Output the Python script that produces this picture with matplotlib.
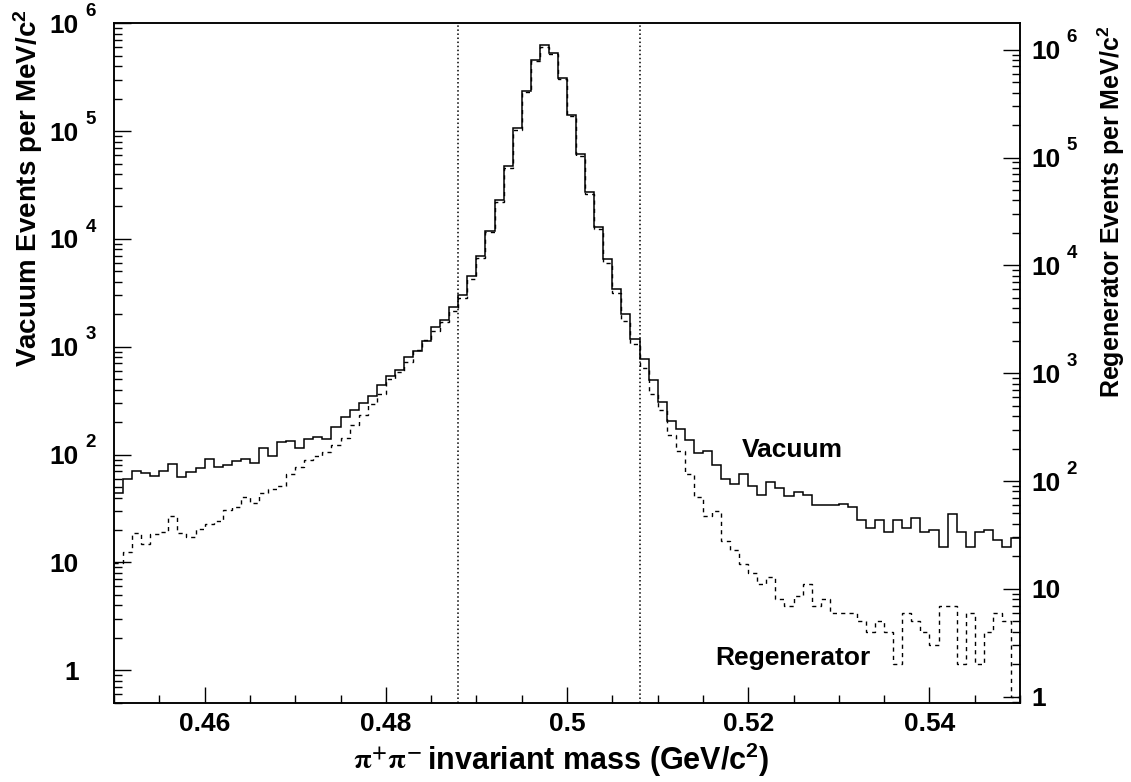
import numpy as np
import matplotlib
matplotlib.use('Agg')
import matplotlib.pyplot as plt
from matplotlib.ticker import LogLocator, MultipleLocator, FixedLocator, FixedFormatter, NullFormatter

plt.rcParams['font.family'] = ['Liberation Sans', 'DejaVu Sans']
plt.rcParams['font.weight'] = 'bold'
plt.rcParams['mathtext.fontset'] = 'custom'
plt.rcParams['mathtext.rm'] = 'Liberation Sans:bold'
plt.rcParams['mathtext.bf'] = 'Liberation Sans:bold'
plt.rcParams['mathtext.it'] = 'Liberation Sans:bold'

# pi+ pi- invariant mass, 1 MeV bins from 0.45 to 0.55 GeV
mass_lo, mass_hi, n_bins = 0.45, 0.55, 100

# vacuum beam (left axis)
vacuum = [44, 60, 71, 67, 63, 71, 82, 62, 69, 75,
          92, 76, 80, 88, 91, 83, 116, 97, 132, 133,
          116, 140, 145, 139, 181, 222, 258, 300, 348, 440,
          541, 611, 806, 922, 1142, 1521, 1778, 2362, 3050, 4550,
          6900, 11970, 22900, 47600, 106700, 236600, 456000, 628000, 535000, 310000,
          141600, 61200, 27200, 12860, 6500, 3400, 2020, 1177, 778, 490,
          306, 205, 174, 137, 104, 107, 80, 60, 53.5, 66,
          51, 42, 56, 49, 41, 45, 42, 34, 34.4, 34.2,
          34.7, 33, 25, 21, 25, 19, 25, 21, 26, 19,
          20, 14, 28, 19, 14, 19, 20, 16, 14, 17]

# regenerator beam (right axis)
regenerator = [17.5, 22, 33, 26, 32, 34, 47, 33, 30, 36,
               40, 43, 54, 58, 71, 62, 77, 84, 90, 116,
               134, 155, 170, 185, 215, 248, 330, 408, 520, 635,
               879, 1028, 1283, 1633, 2023, 2449, 2985, 3777, 5000, 7430,
               11800, 20400, 38700, 80600, 181300, 404500, 784000, 1070000, 918000, 530000,
               242500, 104200, 45900, 21740, 10600, 5580, 3050, 1857, 1106, 639,
               454, 270, 190, 117, 71, 47, 53, 28, 23, 17,
               14, 11, 13, 8, 7, 8.5, 11, 7, 8, 6,
               6, 6, 5, 4, 5, 4, 2, 6, 5, 4,
               3, 7, 7, 2, 6, 2, 4, 6, 5, 1]

cuts = [0.488, 0.508]
left_range = (0.5, 1e6)
right_range = (0.879, 1.758e6)
decades = [0, 1, 2, 3, 4, 5, 6]
x_major = [0.46, 0.48, 0.50, 0.52, 0.54]
x_labels = ['0.46', '0.48', '0.5', '0.52', '0.54']

edges = np.linspace(mass_lo, mass_hi, n_bins + 1)

fig = plt.figure(figsize=(11.31, 7.82), dpi=100)
ax = fig.add_axes([0.1008, 0.1014, 0.8011, 0.8688])
ax2 = ax.twinx()

ax.stairs(vacuum, edges, baseline=None, color='black', lw=1.1)
ax2.stairs(regenerator, edges, baseline=None, color='black', lw=1.0, linestyle=(0, (3, 3)))
for c in cuts:
    ax.axvline(c, color='black', ls=':', lw=1.1)

ax.set_xlim(mass_lo, mass_hi)
ax.set_yscale('log')
ax.set_ylim(*left_range)
ax2.set_yscale('log')
ax2.set_ylim(*right_range)

# x axis
ax.xaxis.set_major_locator(FixedLocator(x_major))
ax.xaxis.set_major_formatter(FixedFormatter(x_labels))
ax.xaxis.set_minor_locator(MultipleLocator(0.005))
ax.tick_params(axis='x', which='both', direction='in', top=False, labelsize=19, pad=6.7, width=1)
ax.tick_params(axis='x', which='major', length=11.5)
ax.tick_params(axis='x', which='minor', length=5.8)

# y axes, ROOT style "10" with raised exponent
base_labels = ['1' if n == 0 else '10' for n in decades]
for a, pad in [(ax, 25.2), (ax2, 8.4)]:
    a.yaxis.set_major_locator(FixedLocator([10.0 ** n for n in decades]))
    a.yaxis.set_major_formatter(FixedFormatter(base_labels))
    a.yaxis.set_minor_locator(LogLocator(base=10, subs=np.arange(2, 10), numticks=20))
    a.yaxis.set_minor_formatter(NullFormatter())
    a.tick_params(axis='y', which='both', direction='in', labelsize=19, pad=pad, width=1)
    a.tick_params(axis='y', which='major', length=12)
    a.tick_params(axis='y', which='minor', length=6)
ax.tick_params(axis='y', which='both', right=False)
ax2.tick_params(axis='y', which='both', left=False)

for n in decades[2:]:
    ax.annotate(str(n), xy=(0, 10.0 ** n), xycoords=('axes fraction', 'data'),
                xytext=(-20.5, 8.5), textcoords='offset points', ha='left', va='center',
                fontsize=13.5, fontweight='bold', annotation_clip=False)
    ax2.annotate(str(n), xy=(1, 10.0 ** n), xycoords=('axes fraction', 'data'),
                 xytext=(33.5, 8.5), textcoords='offset points', ha='left', va='center',
                 fontsize=13.5, fontweight='bold', annotation_clip=False)

for a in (ax, ax2):
    for s in a.spines.values():
        s.set_linewidth(1.1)

ax.text(0.51928, 95, 'Vacuum', fontsize=19, fontweight='bold', ha='left', va='baseline')
ax.text(0.5164, 1.12, 'Regenerator', fontsize=19, fontweight='bold', ha='left', va='baseline')

fig.text(0.0245, 0.9885, 'Vacuum Events per MeV/c$^{2}$', rotation=90,
         ha='center', va='top', fontsize=20, fontweight='bold')
fig.text(0.983, 0.968, 'Regenerator Events per MeV/c$^{2}$', rotation=90,
         ha='center', va='top', fontsize=18, fontweight='bold')

# x title: serif pi's (symbol font) followed by bold sans text
fig.text(0.3725, 0.0153, r'$\mathrm{\pi}^{+}\mathrm{\pi}^{-}$', math_fontfamily='stix',
         ha='right', va='baseline', fontsize=20.5, fontweight='normal')
fig.text(0.3775, 0.0153, 'invariant mass (GeV/c$^{2}$)',
         ha='left', va='baseline', fontsize=22, fontweight='bold')

fig.savefig('out.png', dpi=100)
